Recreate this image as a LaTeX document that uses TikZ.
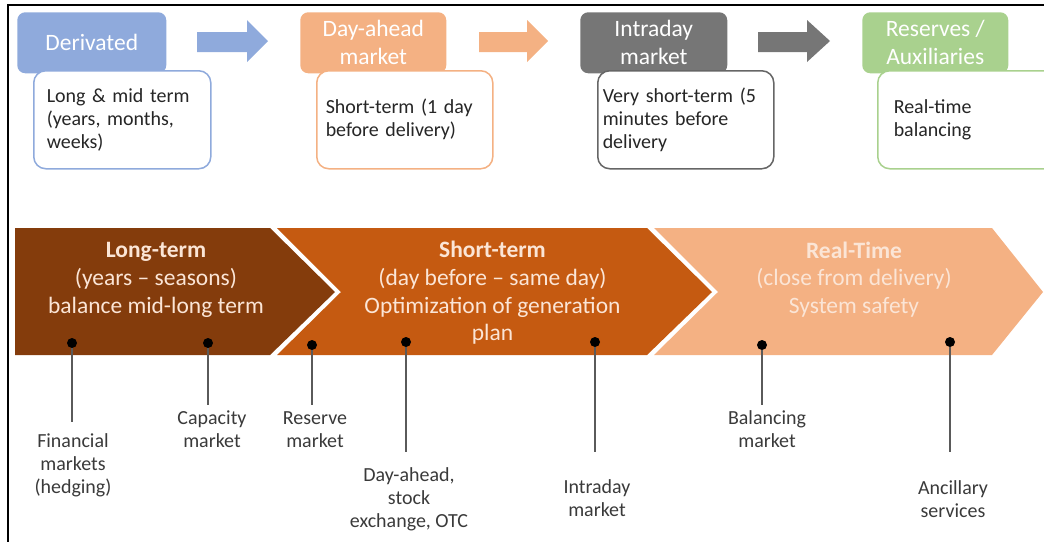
\documentclass[tikz,border=0pt]{standalone}
\usepackage{fontspec}
\setmainfont{Carlito}
\usetikzlibrary{shapes}
\usetikzlibrary{positioning}

\newlength{\px}
\setlength{\px}{0.025cm}

\definecolor{derivblue}{HTML}{8FAADC}
\definecolor{dayorange}{HTML}{F4B183}
\definecolor{intragray}{HTML}{767676}
\definecolor{intraline}{HTML}{666666}
\definecolor{resgreen}{HTML}{A9D18E}
\definecolor{longbrown}{HTML}{843C0C}
\definecolor{shortorange}{HTML}{C55A11}
\definecolor{realpeach}{HTML}{F4B183}
\definecolor{chevlight}{HTML}{FBE5D6}
\definecolor{textdark}{HTML}{262626}
\definecolor{labelgray}{HTML}{3A3A3A}
\definecolor{stemgray}{HTML}{5A5A5A}

\begin{document}
\begin{tikzpicture}[x=0.025cm, y=-0.025cm,
	header/.style={rounded corners=8*\px, inner sep=0pt, align=center, text=white,
		minimum height=61*\px, anchor=north west, font=\fontsize{16.7}{19.9}\selectfont},
	descbox/.style={draw=#1, line width=1.5*\px, fill=white, rounded corners=12*\px,
		minimum height=98*\px, inner ysep=0pt, align=left, anchor=north west,
		text=textdark, font=\fontsize{14.2}{16.4}\selectfont},
	chevtext/.style={align=center, text=chevlight, font=\fontsize{16.7}{19.7}\selectfont},
	dot/.style={circle, fill=black, inner sep=0pt, minimum size=10*\px},
	mlabel/.style={align=center, text=labelgray, font=\fontsize{14.2}{16.4}\selectfont},
	stem/.style={draw=stemgray, line width=1.5*\px}]
		\useasboundingbox (0,0) rectangle (1044,541);
		\clip (0,0) rectangle (1044,541);
		\draw[line width=2.5*\px] (8,545) -- (8,5) -- (1050,5);
		%% The market stages
		\node[header, fill=derivblue, minimum width=149*\px] (deriv) at (17,12) {Derivated};
		\node[header, fill=dayorange, minimum width=146*\px] (dayah) at (300,12) {Day-ahead\\market};
		\node[header, fill=intragray, minimum width=147*\px] (intra) at (580,12) {Intraday\\market};
		\node[header, fill=resgreen, minimum width=146*\px] (reserv) at (862,12) {Reserves /\\Auxiliaries};
		\node[descbox=derivblue, inner xsep=13*\px, text width=3.775cm] (derivtxt) at (33,70)
			{Long \& mid term\\(years, months,\\weeks)};
		\node[descbox=dayorange, inner xsep=9*\px, text width=3.95cm] (dayahtxt) at (316,70)
			{Short-term (1 day\\before delivery)};
		\node[descbox=intraline, inner xsep=5*\px, text width=4.15cm] (intratxt) at (597,70)
			{Very short-term (5\\minutes before\\delivery};
		\node[descbox=resgreen, inner xsep=16*\px, text width=4.2cm] (reservtxt) at (877,70)
			{Real-time\\balancing};
		% block arrows between the stages
		\fill[derivblue] (197,32) -- (247,32) -- (247,20) -- (268,41) -- (247,62) -- (247,52) -- (197,52) -- cycle;
		\fill[dayorange] (479,32) -- (527,32) -- (527,20) -- (548,41) -- (527,62) -- (527,52) -- (479,52) -- cycle;
		\fill[intragray] (758,32) -- (807,32) -- (807,20) -- (830,41) -- (807,62) -- (807,52) -- (758,52) -- cycle;
		%% The time line
		\fill[longbrown] (15,228) -- (270,228) -- (335,292) -- (270,355) -- (15,355) -- cycle;
		\fill[shortorange] (277,228) -- (647,228) -- (712,292) -- (647,355) -- (277,355) -- (341,292) -- cycle;
		\fill[realpeach] (654,228) -- (992,228) -- (1043,292) -- (992,355) -- (654,355) -- (718,292) -- cycle;
		\node[chevtext] (longterm) at (156,280) {\textbf{Long-term}\\(years -- seasons)\\balance mid-long term};
		\node[chevtext] (shortterm) at (492.5,293) {\textbf{Short-term}\\(day before -- same day)\\Optimization of generation\\plan};
		\node[chevtext] (realtime) at (854,279.5) {\textbf{Real-Time}\\(close from delivery)\\System safety};
		%% The markets on the time line
		\node[dot] (findot) at (72,343) {};
		\node[dot] (capdot) at (208,343) {};
		\node[dot] (resdot) at (312,345) {};
		\node[dot] (dahdot) at (406,342) {};
		\node[dot] (intdot) at (595,342) {};
		\node[dot] (baldot) at (762,345) {};
		\node[dot] (ancdot) at (950,342) {};
		\coordinate (finend) at (72,422);
		\coordinate (capend) at (208,405);
		\coordinate (resend) at (312,405);
		\coordinate (dahend) at (406,452);
		\coordinate (intend) at (595,452);
		\coordinate (balend) at (762,405);
		\coordinate (ancend) at (950,452);
		\draw[stem] (findot) -- (finend);
		\draw[stem] (capdot) -- (capend);
		\draw[stem] (resdot) -- (resend);
		\draw[stem] (dahdot) -- (dahend);
		\draw[stem] (intdot) -- (intend);
		\draw[stem] (baldot) -- (balend);
		\draw[stem] (ancdot) -- (ancend);
		\node[mlabel] (fin) at (73,465.5) {Financial\\markets\\(hedging)};
		\node[mlabel] (cap) at (212,429.5) {Capacity\\market};
		\node[mlabel] (res) at (315,429.5) {Reserve\\market};
		\node[mlabel] (dah) at (409,499.5) {Day-ahead,\\stock\\exchange, OTC};
		\node[mlabel] (int) at (597,498.5) {Intraday\\market};
		\node[mlabel] (bal) at (767,429) {Balancing\\market};
		\node[mlabel] (anc) at (953,499) {Ancillary\\services};
	\end{tikzpicture}
\end{document}
